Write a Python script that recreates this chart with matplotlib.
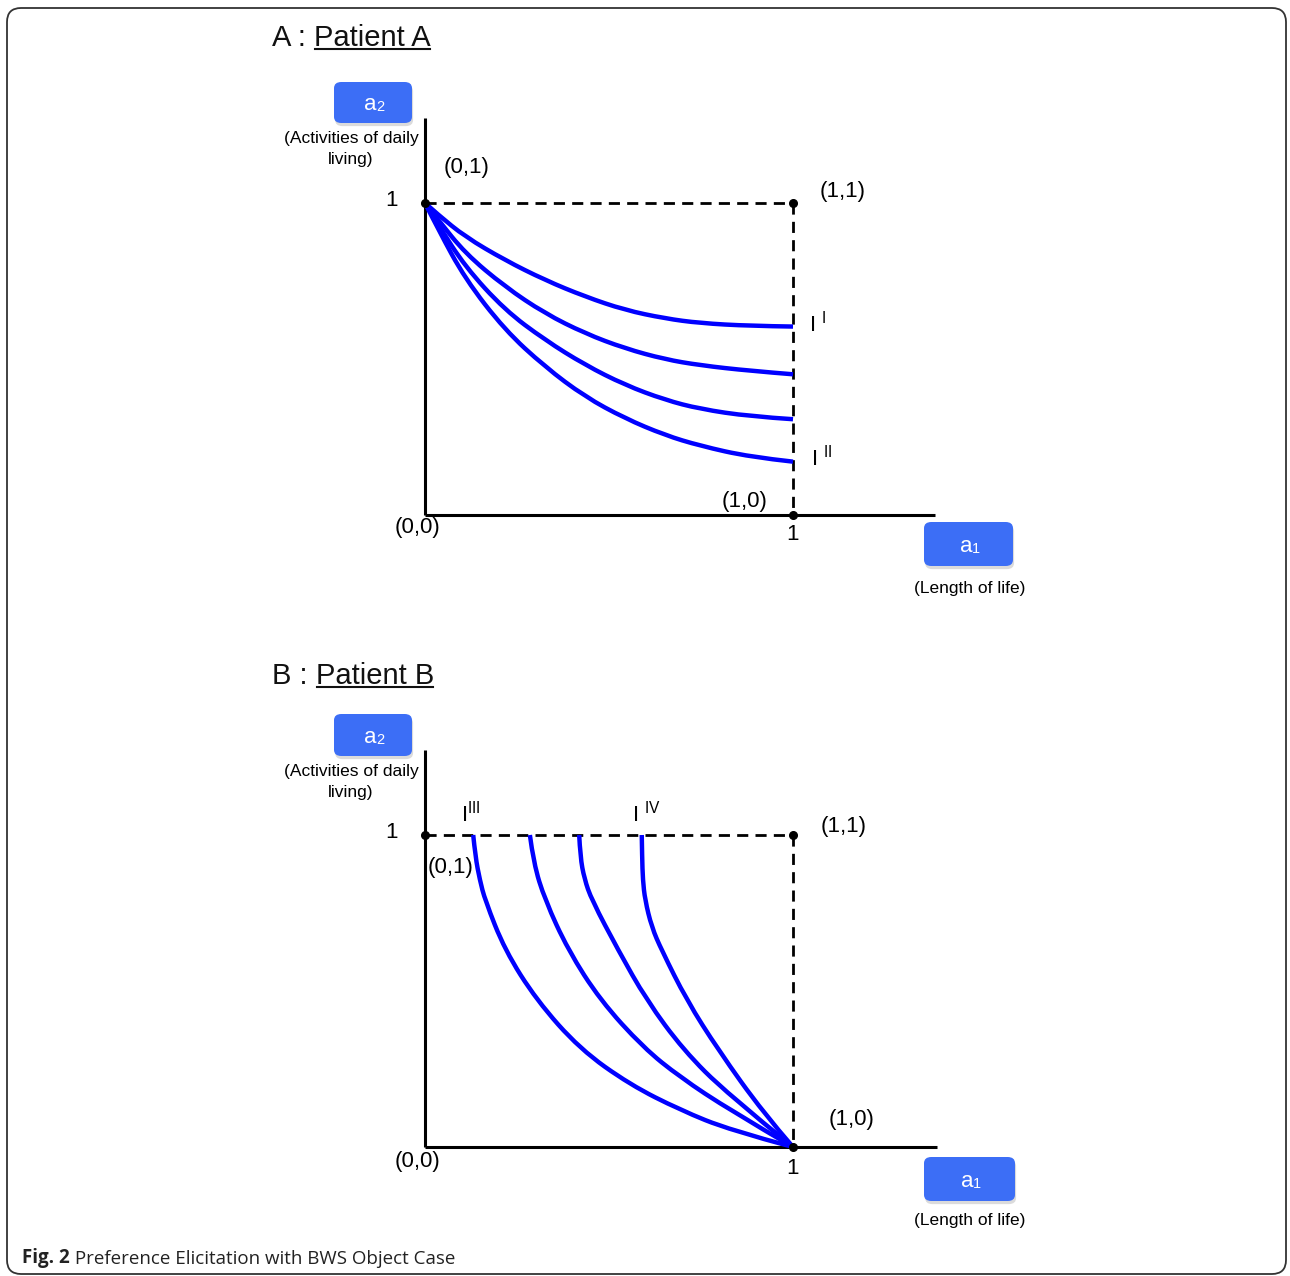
import matplotlib
matplotlib.use("Agg")
import matplotlib.pyplot as plt
from matplotlib.patches import FancyBboxPatch, PathPatch
from matplotlib.path import Path
from matplotlib.lines import Line2D
from matplotlib.transforms import IdentityTransform
from matplotlib import font_manager

plt.rcParams['font.family'] = ['Liberation Sans', 'DejaVu Sans']
plt.rcParams['mathtext.fontset'] = 'custom'
plt.rcParams['mathtext.rm'] = 'Liberation Sans'
plt.rcParams['mathtext.it'] = 'Liberation Sans:italic'
plt.rcParams['mathtext.bf'] = 'Liberation Sans:bold'

# ---------------- data ----------------
# Panel A: indifference curves from (0,1) to the line a1 = 1
a_x = [0, 0.036, 0.109, 0.217, 0.326, 0.435, 0.543, 0.652, 0.747, 0.883, 1.0]
a_curve1 = [1, 0.962, 0.892, 0.817, 0.753, 0.700, 0.657, 0.630, 0.615, 0.606, 0.604]
a_curve2 = [1, 0.946, 0.839, 0.732, 0.646, 0.582, 0.534, 0.499, 0.480, 0.462, 0.451]
a_curve3 = [1, 0.930, 0.796, 0.657, 0.561, 0.481, 0.417, 0.369, 0.340, 0.316, 0.307]
a_curve4 = [1, 0.915, 0.757, 0.593, 0.475, 0.379, 0.310, 0.256, 0.222, 0.186, 0.171]

# Panel B: indifference curves from the line a2 = 1 to (1,0)
b1_x = [0.131, 0.137, 0.149, 0.163, 0.217, 0.303, 0.421, 0.557, 0.693, 0.829, 1.0]
b1_y = [1.0, 0.930, 0.856, 0.792, 0.631, 0.471, 0.314, 0.200, 0.119, 0.054, 0.0]
b2_x = [0.285, 0.295, 0.326, 0.389, 0.476, 0.593, 0.693, 0.829, 1.0]
b2_y = [1.0, 0.910, 0.792, 0.631, 0.471, 0.319, 0.224, 0.118, 0.0]
b3_x = [0.419, 0.422, 0.433, 0.453, 0.525, 0.602, 0.702, 0.820, 1.0]
b3_y = [1.0, 0.930, 0.860, 0.792, 0.631, 0.471, 0.311, 0.172, 0.0]
b4_x = [0.589, 0.590, 0.592, 0.598, 0.616, 0.643, 0.711, 0.797, 0.919, 1.0]
b4_y = [1.0, 0.930, 0.856, 0.792, 0.705, 0.631, 0.471, 0.311, 0.110, 0.0]

corner_points_x = [0, 1, 1]
corner_points_y = [1, 1, 0]

titles = [("A : ", "Patient A"), ("B : ", "Patient B")]
y_axis_label = "(Activities of daily\nliving)"
x_axis_label = "(Length of life)"
caption_bold = "Fig. 2"
caption_text = " Preference Elicitation with BWS Object Case"

# ---------------- figure ----------------
W, H = 1290, 1276
DPI = 100
fig = plt.figure(figsize=(W / DPI, H / DPI), dpi=DPI)
fig.patch.set_facecolor('white')

UX, UY = 368, 312   # pixels per data unit
BLUE = '#0000FF'
BOX = '#3C6EF6'

names = {f.name for f in font_manager.fontManager.ttflist}
cap_font = 'Open Sans' if 'Open Sans' in names else 'DejaVu Sans'


def make_ax(ox, oy):
    ax = fig.add_axes([ox / W, 1 - oy / H, UX / W, UY / H])
    ax.set_xlim(0, 1)
    ax.set_ylim(0, 1)
    ax.axis('off')
    return ax


def conv(ox, oy):
    return (lambda px: (px - ox) / UX), (lambda py: (oy - py) / UY)


def smooth_curve(ax, xs, ys, **kw):
    """Draw the read points as a smooth (quadratic B-spline style) path."""
    pts = list(zip(xs, ys))
    n = len(pts)
    verts = [pts[0]]
    codes = [Path.MOVETO]
    for i in range(1, n - 1):
        if i < n - 2:
            end = ((pts[i][0] + pts[i + 1][0]) / 2, (pts[i][1] + pts[i + 1][1]) / 2)
        else:
            end = pts[n - 1]
        verts += [pts[i], end]
        codes += [Path.CURVE3, Path.CURVE3]
    patch = PathPatch(Path(verts, codes), fc='none', transform=ax.transData,
                      clip_on=False, **kw)
    ax.add_patch(patch)


def blue_box(ax, fx, fy, p0, p1, sub):
    x0, x1 = fx(p0[0]), fx(p1[0])
    y0, y1 = fy(p1[1]), fy(p0[1])
    sh = FancyBboxPatch((x0 + 0.003, y0 - 0.01), x1 - x0, y1 - y0,
                        boxstyle='round,pad=0,rounding_size=0.02',
                        fc='#b8b8b8', ec='none', alpha=0.5,
                        transform=ax.transData, clip_on=False, zorder=2)
    ax.add_patch(sh)
    bx = FancyBboxPatch((x0, y0), x1 - x0, y1 - y0,
                        boxstyle='round,pad=0,rounding_size=0.02',
                        fc=BOX, ec='none',
                        transform=ax.transData, clip_on=False, zorder=3)
    ax.add_patch(bx)
    cx, cy = (x0 + x1) / 2, (y0 + y1) / 2
    t = ax.text(cx + 0.010, cy - 0.008, 'a', color='white', fontsize=16,
                ha='right', va='center', zorder=4)
    ax.annotate(sub, xy=(1, 0.06), xycoords=t, color='white', fontsize=10.5,
                ha='left', va='bottom', zorder=4)


def panel(ax, ox, oy, curves, title, ytop, xend, labels):
    fx, fy = conv(ox, oy)
    # axes
    ax.plot([0, 0], [0, ytop], color='black', lw=2.2, clip_on=False,
            solid_capstyle='butt', zorder=5)
    ax.plot([0, xend], [0, 0], color='black', lw=2.2, clip_on=False,
            solid_capstyle='butt', zorder=5)
    # dashed frame
    ax.plot([0, 1], [1, 1], color='black', lw=2.0, ls=(0, (4, 2.6)),
            clip_on=False, zorder=5)
    ax.plot([1, 1], [1, 0], color='black', lw=2.0, ls=(0, (4, 2.6)),
            clip_on=False, zorder=5)
    # curves
    for cx, cy in curves:
        smooth_curve(ax, cx, cy, ec=BLUE, lw=3.2, capstyle='butt',
                     joinstyle='round', zorder=6)
    ax.plot(corner_points_x, corner_points_y, 'o', color='black', ms=5.5,
            clip_on=False, zorder=7)
    # title
    t1 = ax.text(fx(272), fy(oy - title[2]), title[0], fontsize=21,
                 ha='left', va='center', color='#111111')
    t2 = ax.annotate(title[1], xy=(1, 0), xycoords=t1, fontsize=21,
                     ha='left', va='bottom', color='#111111')
    # blue boxes
    blue_box(ax, fx, fy, labels['a2box'][0], labels['a2box'][1], '2')
    blue_box(ax, fx, fy, labels['a1box'][0], labels['a1box'][1], '1')
    ax.text(fx(351), fy(labels['ylab']), y_axis_label, fontsize=12.5,
            ha='center', va='center', multialignment='center',
            linespacing=1.45)
    ax.text(fx(970), fy(labels['xlab']), x_axis_label, fontsize=12.5,
            ha='center', va='center')
    for s, (px, py), ha in labels['texts']:
        ax.text(fx(px), fy(py), s, fontsize=16, ha=ha, va='center',
                clip_on=False)
    return t2


# Panel A
axA = make_ax(425, 515)
labelsA = {
    'a2box': ((334, 82), (412, 123)),
    'a1box': ((924, 522), (1013, 566)),
    'ylab': 149, 'xlab': 589,
    'texts': [
        ('(0,1)', (467, 168), 'center'),
        ('1', (392, 200), 'center'),
        ('(1,1)', (843, 192), 'center'),
        (r'I $^{\mathrm{I}}$', (809, 324), 'left'),
        (r'I $^{\mathrm{II}}$', (811, 458), 'left'),
        ('(1,0)', (745, 501), 'center'),
        ('(0,0)', (418, 527), 'center'),
        ('1', (793, 535), 'center'),
    ],
}
curvesA = [(a_x, a_curve1), (a_x, a_curve2), (a_x, a_curve3), (a_x, a_curve4)]
tA = panel(axA, 425, 515, curvesA, (titles[0][0], titles[0][1], 515 - 38),
           1.272, 1.386, labelsA)

# Panel B
axB = make_ax(425, 1147)
labelsB = {
    'a2box': ((334, 714), (412, 756)),
    'a1box': ((924, 1157), (1015, 1201)),
    'ylab': 782, 'xlab': 1221,
    'texts': [
        (r'I$^{\mathrm{III}}$', (461, 814), 'left'),
        (r'I $^{\mathrm{IV}}$', (632, 814), 'left'),
        ('1', (392, 833), 'center'),
        ('(1,1)', (844, 826), 'center'),
        ('(0,1)', (451, 867), 'center'),
        ('(1,0)', (852, 1120), 'center'),
        ('(0,0)', (418, 1161), 'center'),
        ('1', (793, 1169), 'center'),
    ],
}
curvesB = [(b1_x, b1_y), (b2_x, b2_y), (b3_x, b3_y), (b4_x, b4_y)]
tB = panel(axB, 425, 1147, curvesB, (titles[1][0], titles[1][1], 1147 - 676),
           1.272, 1.39, labelsB)

# caption
c1 = fig.text(22 / W, 1 - 1258 / H, caption_bold, fontsize=13.5,
              fontweight='bold', family=cap_font, ha='left', va='center',
              color='#222222')
axB.annotate(caption_text, xy=(1, 0), xycoords=c1, fontsize=13.5,
             family=cap_font, ha='left', va='bottom', color='#222222')

# outer rounded frame
frame = FancyBboxPatch((7, 2), 1279, 1266,
                       boxstyle='round,pad=0,rounding_size=14',
                       fc='none', ec='#333333', lw=1.3,
                       transform=IdentityTransform())
fig.add_artist(frame)

# underline the patient names
fig.canvas.draw()
for t in (tA, tB):
    bb = t.get_window_extent()
    ln = Line2D([bb.x0 + 1, bb.x1 - 1], [bb.y0 + 3.5, bb.y0 + 3.5],
                color='#111111', lw=1.5, transform=IdentityTransform())
    fig.add_artist(ln)

fig.savefig('out.png', dpi=DPI, facecolor='white')
